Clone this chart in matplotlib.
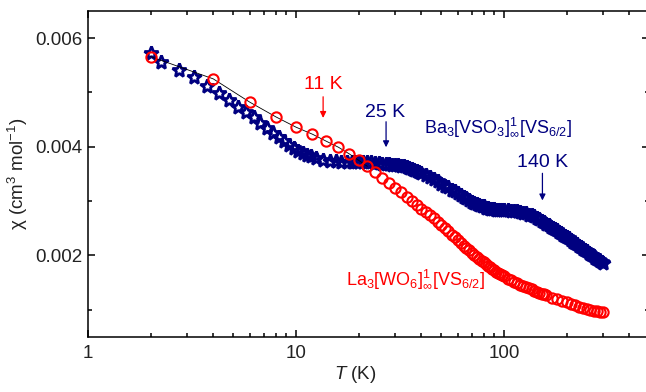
import matplotlib
matplotlib.use("Agg")
import matplotlib.pyplot as plt
import numpy as np

plt.rcParams["font.family"] = ["Liberation Sans", "DejaVu Sans"]
plt.rcParams["mathtext.fontset"] = "custom"
plt.rcParams["mathtext.rm"] = "Liberation Sans"
plt.rcParams["mathtext.it"] = "Liberation Sans:italic"
plt.rcParams["mathtext.default"] = "regular"

NAVY = "#000080"
RED = "#ff0000"

# Ba3[VSO3] (stars)
ba_T = [2, 2.25, 2.75, 3.25, 3.75, 4.25, 4.75, 5.25, 5.75, 6.25, 6.75, 7.25,
        7.75, 8.25, 8.75, 9.25, 9.75, 10.25, 10.75, 11.25, 11.75, 12.5, 13.5,
        14.5, 15.5, 16.5, 17.5, 18.5, 19.5,
        20, 21, 22, 23, 24, 25, 26, 27, 28, 29, 30, 31, 32, 33, 34, 35, 36,
        37, 38, 39, 40,
        42, 44, 46, 48, 50, 52, 54, 56, 58, 60, 62, 64, 66, 68, 70, 72, 74,
        76, 78, 80, 82, 84, 86, 88, 90, 92, 94, 96, 98, 100,
        104, 108, 112, 116, 120, 124, 128, 132, 136, 140, 144, 148, 152, 156,
        160, 164, 168, 172, 176, 180, 184, 188, 192, 196, 200,
        205, 210, 215, 220, 225, 230, 235, 240, 245, 250, 255, 260, 265, 270,
        275, 280, 285, 290, 295, 300]
ba_chi = [0.00572, 0.00556, 0.00541, 0.00528, 0.00512, 0.00499, 0.00486,
          0.00474, 0.00464, 0.00454, 0.00444, 0.00434, 0.00425, 0.00417,
          0.00410, 0.00403, 0.00397, 0.00392, 0.00388, 0.00385, 0.00382,
          0.00379, 0.00376, 0.00374, 0.00373, 0.00372, 0.00372, 0.00372,
          0.00372,
          0.00372, 0.00372, 0.00371, 0.00371, 0.00370, 0.00370, 0.00369,
          0.00369, 0.00368, 0.00367, 0.00367, 0.00366, 0.00365, 0.00364,
          0.00362, 0.00361, 0.00359, 0.00357, 0.00356, 0.00354, 0.00352,
          0.00348, 0.00344, 0.00340, 0.00336, 0.00332, 0.00328, 0.00325,
          0.00321, 0.00318, 0.00314, 0.00311, 0.00308, 0.00305, 0.00302,
          0.00299, 0.00297, 0.00295, 0.00293, 0.00291, 0.00290, 0.00288,
          0.00287, 0.00286, 0.00285, 0.00285, 0.00284, 0.00284, 0.00283,
          0.00283, 0.00283,
          0.00283, 0.00282, 0.00282, 0.00281, 0.00280, 0.00278, 0.00277,
          0.00275, 0.00274, 0.00272, 0.00269, 0.00267, 0.00264, 0.00261,
          0.00258, 0.00256, 0.00253, 0.00251, 0.00248, 0.00246, 0.00243,
          0.00241, 0.00238, 0.00236, 0.00234,
          0.00231, 0.00228, 0.00225, 0.00223, 0.00220, 0.00217, 0.00215,
          0.00212, 0.00210, 0.00207, 0.00205, 0.00202, 0.00200, 0.00198,
          0.00195, 0.00193, 0.00191, 0.00189, 0.00187, 0.00186]

# La3[WO6] (circles)
la_T = [2, 4, 6, 8, 10, 12, 14, 16, 18, 20, 22, 24, 26, 28, 30, 32, 34, 36,
        38, 40, 42, 44, 46, 48, 50, 52, 54, 56, 58, 60, 62, 64, 66, 68, 70,
        72, 74, 76, 78, 80, 82, 84, 86, 88, 90, 92, 94, 96, 98, 100,
        104, 108, 112, 116, 120, 124, 128, 132, 136, 140, 144, 148, 152, 156,
        160, 170, 180, 190, 200, 210, 220, 230, 240, 250, 260, 270, 280, 290,
        300]
la_chi = [0.00566, 0.00525, 0.00482, 0.00455, 0.00436, 0.00423, 0.00410,
          0.00399, 0.00387, 0.00375, 0.00364, 0.00353, 0.00343, 0.00333,
          0.00324, 0.00316, 0.00308, 0.00300, 0.00293, 0.00286,
          0.00280, 0.00274, 0.00268, 0.00262, 0.00256, 0.00250, 0.00244,
          0.00238, 0.00233, 0.00228, 0.00223, 0.00218, 0.00213, 0.00209,
          0.00204, 0.00200, 0.00197, 0.00193, 0.00190, 0.00187, 0.00184,
          0.00181, 0.00178, 0.00175, 0.00173, 0.00170, 0.00168, 0.00166,
          0.00163, 0.00161,
          0.00157, 0.00154, 0.00151, 0.00148, 0.00145, 0.00143, 0.00141,
          0.00139, 0.00137, 0.00135, 0.00133, 0.00131, 0.00129, 0.00128,
          0.00126, 0.00122, 0.00119, 0.00116, 0.00113, 0.00110, 0.00108,
          0.00105, 0.00103, 0.00101, 0.00099, 0.00098, 0.00097, 0.00096,
          0.00095]
n_line = 11  # thin black guide line through the first red points

fig = plt.figure(figsize=(6.46, 3.92), dpi=100)
ax = fig.add_axes([88 / 646, 0.1411, 561.4 / 646, 0.8308])

ax.plot(ba_T, ba_chi, ls="none", marker="*", ms=10, mfc="none",
        mec=NAVY, mew=2.0, zorder=2)
ax.plot(la_T[:n_line], la_chi[:n_line], "-", color="black", lw=0.6, zorder=3)
ax.plot(la_T, la_chi, ls="none", marker="o", ms=7.4, mfc="none",
        mec=RED, mew=1.5, zorder=4)

ax.set_xscale("log")
ax.set_xlim(1, 500)
ax.set_ylim(0.0005, 0.0065)
ax.set_xticks([1, 10, 100])
ax.set_xticklabels(["1", "10", "100"])
ax.set_yticks([0.002, 0.004, 0.006])
ax.set_yticklabels(["0.002", "0.004", "0.006"])
ax.set_yticks([0.001, 0.003, 0.005], minor=True)

for s in ax.spines.values():
    s.set_linewidth(1.1)
ax.tick_params(which="both", direction="in", top=True, right=True,
               width=1.1, labelsize=13.5, labelcolor="#222222")
ax.tick_params(which="major", length=5)
ax.tick_params(which="minor", length=2.8)
ax.tick_params(axis="x", pad=6)
ax.tick_params(axis="y", pad=4)

ax.set_xlabel("$\\mathit{T}$ (K)", fontsize=13.5, color="#222222")
ax.xaxis.set_label_coords(0.476, -0.085)
ax.set_ylabel("χ (cm$^3$ mol$^{-1}$)", fontsize=13.5, color="#222222",
              labelpad=4)

arrow = dict(arrowstyle="-|>", lw=0.9, mutation_scale=9, shrinkA=0, shrinkB=0)
ax.annotate("", xy=(13.5, 0.00453), xytext=(13.5, 0.00492),
            arrowprops=dict(arrow, color=RED))
ax.text(13.5, 0.00515, "11 K", color=RED, fontsize=14, ha="center", va="center")
ax.annotate("", xy=(27.1, 0.00399), xytext=(27.1, 0.00446),
            arrowprops=dict(arrow, color=NAVY))
ax.text(26.8, 0.00463, "25 K", color=NAVY, fontsize=14, ha="center", va="center")
ax.annotate("", xy=(153, 0.00301), xytext=(153, 0.00351),
            arrowprops=dict(arrow, color=NAVY))
ax.text(154, 0.00371, "140 K", color=NAVY, fontsize=14, ha="center", va="center")

ax.text(41.2, 0.004246, "Ba$_3$[VSO$_3$]$_{\\infty}^{1}$[VS$_{6/2}$]",
        color=NAVY, fontsize=13, ha="left", va="baseline")
ax.text(17.3, 0.001459, "La$_3$[WO$_6$]$_{\\infty}^{1}$[VS$_{6/2}$]",
        color=RED, fontsize=13, ha="left", va="baseline")

fig.savefig("out.png", dpi=100)
